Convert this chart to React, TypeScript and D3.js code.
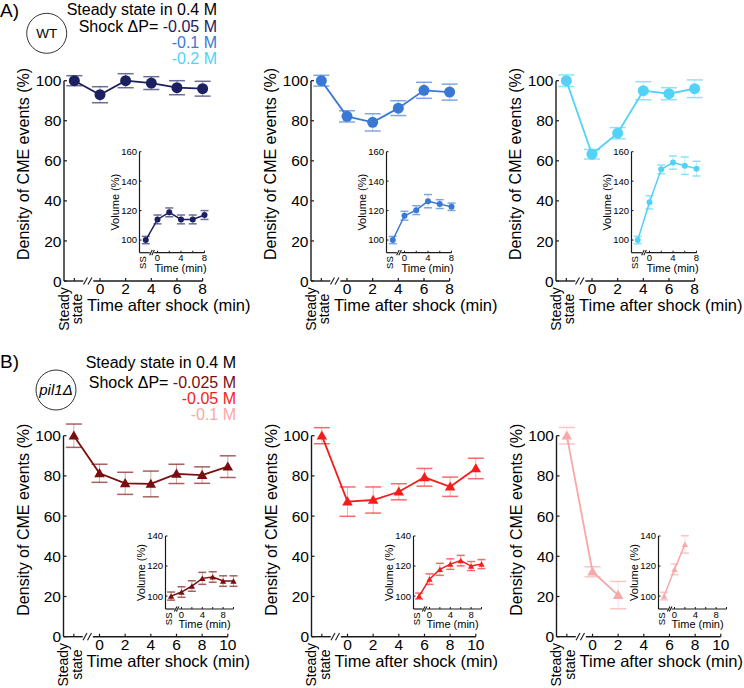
import * as d3 from 'd3';

const FONT = "'Liberation Sans', Arial, sans-serif";

// time points after shock (min); steady state is drawn at -2
const timeA = [0, 2, 4, 6, 8];
const timeB = [0, 2, 4, 6, 8, 10];
const SS_T = -2;
const densTicks = [0, 20, 40, 60, 80, 100];
const volTicksA = [100, 120, 140, 160];
const volTicksB = [100, 120, 140];
const insetTimeLabels = [0, 4, 8];

// WT: density of CME events (%), first value = steady state
const wt005 = [100, 93, 100, 98.8, 96.5, 96];
const wt005Err = [2.5, 4, 3.5, 3.2, 3.5, 3.7];
const wt01 = [100, 82.2, 79.2, 86.3, 95.2, 94.3];
const wt01Err = [2.7, 2.8, 4.3, 3.7, 4, 4];
const wt02 = [100, 63.3, 73.8, 95, 93.5, 96];
const wt02Err = [2.9, 2.4, 2.8, 4.5, 3, 4.4];

// WT: volume (%)
const wtVol005 = [100, 114, 118.8, 114, 114, 117];
const wtVol005Err = [2.5, 3, 3, 3, 3, 3];
const wtVol01 = [100, 116.5, 120.3, 126.4, 124.4, 122.6];
const wtVol01Err = [2.5, 3, 3, 4.5, 3, 2.5];
const wtVol02 = [100, 125.6, 148, 152.6, 150.5, 148.5];
const wtVol02Err = [2.5, 4.5, 3, 4.5, 5.9, 5];

// pil1Δ: density of CME events (%)
const pil0025 = [100, 81.3, 76.3, 76, 81, 80.4, 84.6];
const pil0025Err = [5.8, 4.5, 5.5, 6.4, 4.8, 4.1, 5.4];
const pil005 = [100, 67.2, 68, 72.1, 79.3, 74.6, 83.7];
const pil005Err = [4, 7.3, 6.5, 4, 4.4, 4.8, 5.1];
const pil01 = [100, 32.3, 20.7];
const pil01Err = [4.1, 2.5, 6.8];

// pil1Δ: volume (%)
const pilVol0025 = [100, 102.7, 106.7, 111.8, 112.7, 110, 110];
const pilVol0025Err = [2.7, 3.5, 3.5, 4, 3.5, 3.5, 3.5];
const pilVol005 = [100, 111.3, 117.8, 121.3, 123.6, 120, 121.3];
const pilVol005Err = [2, 3.5, 4, 3.5, 3.5, 3, 3];
const pilVol01 = [100, 117.8, 134.4];
const pilVol01Err = [2.5, 3.5, 5.8];

const C_WT = ['#1d2060', '#3a78d6', '#52d2f6'];
const C_PIL = ['#7a0d0d', '#f51c1c', '#f8a8a8'];

const AXIS = '#1a1a1a';

function Marker({ kind, x, y, r, color }: any) {
  if (kind === 'circle') return <circle cx={x} cy={y} r={r} fill={color} />;
  const path = d3.symbol(d3.symbolTriangle, r)();
  return <path d={path || ''} transform={`translate(${x},${y + 0.8})`} fill={color} />;
}

function Series({ xs, ys, vals, errs, times, color, marker, size, cap, lw }: any) {
  const pts = vals.map((v: number, i: number) => [xs(times[i]), ys(v)] as [number, number]);
  const line = d3.line()(pts) || '';
  return (
    <g>
      {vals.map((v: number, i: number) => {
        const x = xs(times[i]);
        const yt = ys(v + errs[i]);
        const yb = ys(v - errs[i]);
        return (
          <g key={i}>
            <line x1={x} x2={x} y1={yt} y2={yb} stroke={color} strokeOpacity={0.35} strokeWidth={1} />
            <line x1={x - cap} x2={x + cap} y1={yt} y2={yt} stroke={color} strokeOpacity={0.65} strokeWidth={1.5} />
            <line x1={x - cap} x2={x + cap} y1={yb} y2={yb} stroke={color} strokeOpacity={0.65} strokeWidth={1.5} />
          </g>
        );
      })}
      <path d={line} fill="none" stroke={color} strokeWidth={lw} />
      {pts.map((p: [number, number], i: number) => (
        <Marker key={i} kind={marker} x={p[0]} y={p[1]} r={size} color={color} />
      ))}
    </g>
  );
}

function Panel({ cfg, ax, dens, densErr, vol, volErr, color }: any) {
  const { y0, y100, maxT, times, insetDx, insetTop, insetBottom, insetMax, volTicks, inset0, insetPx, marker } = cfg;
  const y = d3.scaleLinear().domain([0, 100]).range([y0, y100]);
  const x = d3.scaleLinear().domain([0, maxT]).range([ax + 36, ax + 36 + 12.83 * maxT]);
  const t = [SS_T, ...times];
  const xTicks = d3.range(0, maxT + 1, 2);

  const ix = ax + insetDx;
  const iy = d3.scaleLinear().domain([100, insetMax]).range([insetBottom - (insetBottom - insetTop) * (100 - 91.4) / (insetMax - 91.4), insetTop]);
  const ixs = d3.scaleLinear().domain([0, maxT]).range([ix + inset0, ix + inset0 + insetPx * maxT]);

  const slash = (sx: number, sy: number, dx: number, dy: number, k: string) => (
    <line key={k} x1={sx - dx} y1={sy + dy} x2={sx + dx} y2={sy - dy} stroke={AXIS} strokeWidth={1.1} />
  );

  return (
    <g fontFamily={FONT}>
      {/* main y axis */}
      <line x1={ax} x2={ax} y1={y(0)} y2={y(100)} stroke={AXIS} strokeWidth={1.4} />
      {densTicks.map((d) => (
        <g key={d}>
          <line x1={ax} x2={ax + 3} y1={y(d)} y2={y(d)} stroke={AXIS} strokeWidth={1.2} />
          <text x={ax - 2.5} y={y(d)} dy="0.36em" textAnchor="end" fontSize={15.5}>{d}</text>
        </g>
      ))}
      <text transform={`translate(${ax - 35},${y0 - 21}) rotate(-90)`} fontSize={16}>Density of CME events (%)</text>

      {/* main x axis with break */}
      <line x1={ax} x2={x(-1.3)} y1={y0} y2={y0} stroke={AXIS} strokeWidth={1.4} />
      <line x1={x(-0.52)} x2={x(maxT)} y1={y0} y2={y0} stroke={AXIS} strokeWidth={1.4} />
      {slash(x(-1.13), y0, 2, 3.6, 's1')}
      {slash(x(-0.78), y0, 2, 3.6, 's2')}
      <line x1={x(SS_T)} x2={x(SS_T)} y1={y0} y2={y0 - 3} stroke={AXIS} strokeWidth={1.2} />
      {xTicks.map((d) => (
        <g key={d}>
          <line x1={x(d)} x2={x(d)} y1={y0} y2={y0 - 3} stroke={AXIS} strokeWidth={1.2} />
          <text x={x(d)} y={y0 + 13} textAnchor="middle" fontSize={15.5}>{d}</text>
        </g>
      ))}
      <text transform={`translate(${x(SS_T) - 5.8},${y0 + 28}) rotate(-90)`} textAnchor="middle" fontSize={14}>Steady</text>
      <text transform={`translate(${x(SS_T) + 7.7},${y0 + 28}) rotate(-90)`} textAnchor="middle" fontSize={14}>state</text>
      <text x={ax + 23} y={y0 + 30} fontSize={16.5}>Time after shock (min)</text>

      <Series xs={x} ys={y} vals={dens} errs={densErr} times={t} color={color} marker={marker}
        size={marker === 'circle' ? 5.5 : 48} cap={8} lw={1.8} />

      {/* inset */}
      <line x1={ix} x2={ix} y1={insetBottom} y2={insetTop} stroke={AXIS} strokeWidth={1.2} />
      {volTicks.map((d: number) => (
        <g key={d}>
          <line x1={ix} x2={ix + 2} y1={iy(d)} y2={iy(d)} stroke={AXIS} strokeWidth={1} />
          <text x={ix - 2.5} y={iy(d)} dy="0.36em" textAnchor="end" fontSize={9.5}>{d}</text>
        </g>
      ))}
      <text transform={`translate(${ix - 21},${(insetTop + insetBottom) / 2}) rotate(-90)`} textAnchor="middle" fontSize={11}>Volume (%)</text>
      <line x1={ix} x2={ixs(-1.3)} y1={insetBottom} y2={insetBottom} stroke={AXIS} strokeWidth={1.2} />
      <line x1={ixs(-0.55)} x2={ixs(maxT)} y1={insetBottom} y2={insetBottom} stroke={AXIS} strokeWidth={1.2} />
      {slash(ixs(-1.12), insetBottom, 1.3, 2.6, 'i1')}
      {slash(ixs(-0.75), insetBottom, 1.3, 2.6, 'i2')}
      {xTicks.map((d) => (
        <line key={d} x1={ixs(d)} x2={ixs(d)} y1={insetBottom} y2={insetBottom - 2} stroke={AXIS} strokeWidth={1} />
      ))}
      {insetTimeLabels.map((d) => (
        <text key={d} x={ixs(d)} y={insetBottom + 8.5} textAnchor="middle" fontSize={9.5}>{d}</text>
      ))}
      <text transform={`translate(${ixs(SS_T) + 0.5},${insetBottom + 3.5}) rotate(-90)`} textAnchor="end" fontSize={9.5}>SS</text>
      <text x={ix + inset0 - 3} y={insetBottom + 19} fontSize={11}>Time (min)</text>

      <Series xs={ixs} ys={iy} vals={vol} errs={volErr} times={t} color={color} marker={marker}
        size={marker === 'circle' ? 3 : 17} cap={4} lw={1.5} />
    </g>
  );
}

const cfgA = {
  y0: 281, y100: 80.7, maxT: 8, times: timeA, insetDx: 75.5, insetTop: 151.7, insetBottom: 252.7,
  insetMax: 160, volTicks: volTicksA, inset0: 18, insetPx: 5.875, marker: 'circle',
};
const cfgB = {
  y0: 636.7, y100: 435.7, maxT: 10, times: timeB, insetDx: 102, insetTop: 536, insetBottom: 609,
  insetMax: 140, volTicks: volTicksB, inset0: 16, insetPx: 5.2, marker: 'triangle',
};

export default function App() {
  return (
    <svg width={744} height={688} style={{ position: 'absolute', left: 0, top: 0, background: '#fff' }}
      fontFamily={FONT}>
      {/* Section A header */}
      <text x={0} y={17} fontSize={19}>A)</text>
      <circle cx={46.7} cy={33.3} r={20} fill="none" stroke="#333" strokeWidth={1} />
      <text x={46.7} y={38.3} textAnchor="middle" fontSize={13.5}>WT</text>
      <text x={217} y={14.5} textAnchor="end" fontSize={16}>Steady state in 0.4 M</text>
      <text x={217} y={31.5} textAnchor="end" fontSize={16}>Shock ΔP= <tspan fill={C_WT[0]}>-0.05 M</tspan></text>
      <text x={217} y={47.5} textAnchor="end" fontSize={16} fill={C_WT[1]}>-0.1 M</text>
      <text x={217} y={63.5} textAnchor="end" fontSize={16} fill={C_WT[2]}>-0.2 M</text>

      <Panel cfg={cfgA} ax={64} dens={wt005} densErr={wt005Err} vol={wtVol005} volErr={wtVol005Err} color={C_WT[0]} />
      <Panel cfg={cfgA} ax={311} dens={wt01} densErr={wt01Err} vol={wtVol01} volErr={wtVol01Err} color={C_WT[1]} />
      <Panel cfg={cfgA} ax={556} dens={wt02} densErr={wt02Err} vol={wtVol02} volErr={wtVol02Err} color={C_WT[2]} />

      {/* Section B header */}
      <text x={0} y={368} fontSize={19}>B)</text>
      <circle cx={56} cy={390} r={20} fill="none" stroke="#333" strokeWidth={1} />
      <text x={56} y={394.5} textAnchor="middle" fontSize={15} fontStyle="italic">pil1Δ</text>
      <text x={236} y={368} textAnchor="end" fontSize={16}>Steady state in 0.4 M</text>
      <text x={236} y={387.5} textAnchor="end" fontSize={16}>Shock ΔP= <tspan fill={C_PIL[0]}>-0.025 M</tspan></text>
      <text x={236} y={403.5} textAnchor="end" fontSize={16} fill={C_PIL[1]}>-0.05 M</text>
      <text x={236} y={419.5} textAnchor="end" fontSize={16} fill={C_PIL[2]}>-0.1 M</text>

      <Panel cfg={cfgB} ax={63.5} dens={pil0025} densErr={pil0025Err} vol={pilVol0025} volErr={pilVol0025Err} color={C_PIL[0]} />
      <Panel cfg={cfgB} ax={311.5} dens={pil005} densErr={pil005Err} vol={pilVol005} volErr={pilVol005Err} color={C_PIL[1]} />
      <Panel cfg={cfgB} ax={556.5} dens={pil01} densErr={pil01Err} vol={pilVol01} volErr={pilVol01Err} color={C_PIL[2]} />
    </svg>
  );
}
